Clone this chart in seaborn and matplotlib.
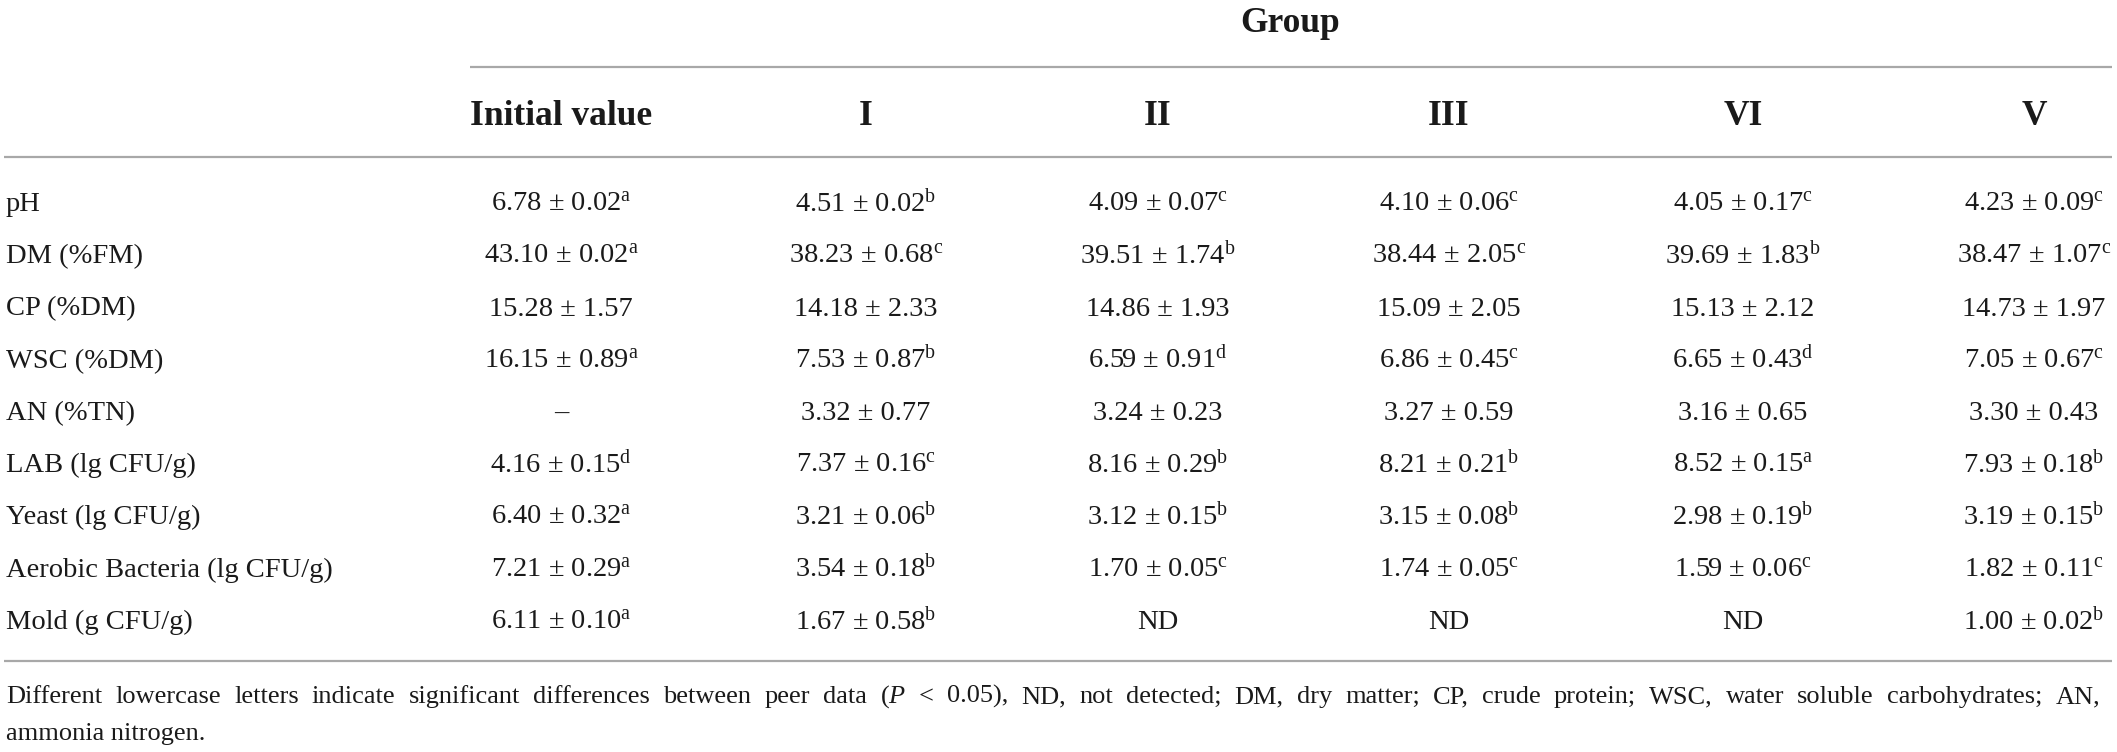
import numpy as np
import matplotlib
matplotlib.use("Agg")
import matplotlib.pyplot as plt
import seaborn as sns

# table content
row_labels = ["pH", "DM (%FM)", "CP (%DM)", "WSC (%DM)", "AN (%TN)",
              "LAB (lg CFU/g)", "Yeast (lg CFU/g)",
              "Aerobic Bacteria (lg CFU/g)", "Mold (g CFU/g)"]
groups = ["Initial value", "I", "II", "III", "VI", "V"]
header_title = "Group"

initial_mean = [6.78, 43.10, 15.28, 16.15, "–", 4.16, 6.40, 7.21, 6.11]
initial_sd = [0.02, 0.02, 1.57, 0.89, None, 0.15, 0.32, 0.29, 0.10]
initial_sig = ["a", "a", "", "a", "", "d", "a", "a", "a"]

g1_mean = [4.51, 38.23, 14.18, 7.53, 3.32, 7.37, 3.21, 3.54, 1.67]
g1_sd = [0.02, 0.68, 2.33, 0.87, 0.77, 0.16, 0.06, 0.18, 0.58]
g1_sig = ["b", "c", "", "b", "", "c", "b", "b", "b"]

g2_mean = [4.09, 39.51, 14.86, 6.59, 3.24, 8.16, 3.12, 1.70, "ND"]
g2_sd = [0.07, 1.74, 1.93, 0.91, 0.23, 0.29, 0.15, 0.05, None]
g2_sig = ["c", "b", "", "d", "", "b", "b", "c", ""]

g3_mean = [4.10, 38.44, 15.09, 6.86, 3.27, 8.21, 3.15, 1.74, "ND"]
g3_sd = [0.06, 2.05, 2.05, 0.45, 0.59, 0.21, 0.08, 0.05, None]
g3_sig = ["c", "c", "", "c", "", "b", "b", "c", ""]

g6_mean = [4.05, 39.69, 15.13, 6.65, 3.16, 8.52, 2.98, 1.59, "ND"]
g6_sd = [0.17, 1.83, 2.12, 0.43, 0.65, 0.15, 0.19, 0.06, None]
g6_sig = ["c", "b", "", "d", "", "a", "b", "c", ""]

g5_mean = [4.23, 38.47, 14.73, 7.05, 3.30, 7.93, 3.19, 1.82, 1.00]
g5_sd = [0.09, 1.07, 1.97, 0.67, 0.43, 0.18, 0.15, 0.11, 0.02]
g5_sig = ["c", "c", "", "c", "", "b", "b", "c", "b"]

footnote_line1 = ("Different lowercase letters indicate significant differences between "
                  "peer data ($\\mathit{P}$ < 0.05), ND, not detected; DM, dry matter; "
                  "CP, crude protein; WSC, water soluble carbohydrates; AN,")
footnote_line2 = "ammonia nitrogen."

columns = [
    (initial_mean, initial_sd, initial_sig),
    (g1_mean, g1_sd, g1_sig),
    (g2_mean, g2_sd, g2_sig),
    (g3_mean, g3_sd, g3_sig),
    (g6_mean, g6_sd, g6_sig),
    (g5_mean, g5_sd, g5_sig),
]


def cell_text(mean, sd, sig):
    if isinstance(mean, str):
        return mean
    s = f"{mean:.2f} ± {sd:.2f}"
    if sig:
        s += "$^{\\mathrm{" + sig + "}}$"
    return s


sns.set_theme(style="white")
plt.rcParams["font.family"] = ["Liberation Serif", "DejaVu Serif"]
plt.rcParams["mathtext.fontset"] = "custom"
plt.rcParams["mathtext.rm"] = "Liberation Serif"
plt.rcParams["mathtext.it"] = "Liberation Serif:italic"
plt.rcParams["mathtext.bf"] = "Liberation Serif:bold"

W, H = 2117, 752
fig = plt.figure(figsize=(W / 100, H / 100), dpi=100)
ax = fig.add_axes([0, 0, 1, 1])
ax.set_xlim(0, W)
ax.set_ylim(H, 0)
ax.axis("off")

# layout (pixels)
col_x = [561, 866, 1158, 1449, 1743, 2034]
label_x = 6
row0, row_step = 211, 52.25
line_col = "#a8a8a8"
ink = "#1a1a1a"

# header
ax.text(1290, 32, header_title, ha="center", va="baseline",
        fontsize=25.5, fontweight="bold", color=ink)
ax.hlines(67, 470, 2112, color=line_col, lw=1.6)
for x, g in zip(col_x, groups):
    ax.text(x, 125, g, ha="center", va="baseline",
            fontsize=25.5, fontweight="bold", color=ink)
ax.hlines(157, 4, 2112, color=line_col, lw=1.6)

# body
for i, lab in enumerate(row_labels):
    y = row0 + row_step * i
    ax.text(label_x, y, lab, ha="left", va="baseline", fontsize=20.5, color=ink)
    for x, (m, s, g) in zip(col_x, columns):
        ax.text(x, y, cell_text(m[i], s[i], g[i]), ha="center", va="baseline",
                fontsize=20.5, color=ink)
ax.hlines(661, 4, 2112, color=line_col, lw=1.6)

# footnote, first line justified word by word
fig.canvas.draw()
renderer = fig.canvas.get_renderer()
tokens = footnote_line1.split(" ")
arts = [ax.text(0, 703, w, ha="left", va="baseline", fontsize=19, color=ink)
        for w in tokens]
fig.canvas.draw()
inv = ax.transData.inverted()
widths = []
for a in arts:
    bb = a.get_window_extent(renderer)
    widths.append(inv.transform((bb.x1, bb.y0))[0] - inv.transform((bb.x0, bb.y0))[0])
left, right = 6, 2100
gap = (right - left - sum(widths)) / (len(arts) - 1)
x = left
for a, w in zip(arts, widths):
    a.set_x(x)
    x += w + gap

ax.text(6, 740, footnote_line2, ha="left", va="baseline", fontsize=19, color=ink)

fig.savefig("out.png", dpi=100, facecolor="white")
